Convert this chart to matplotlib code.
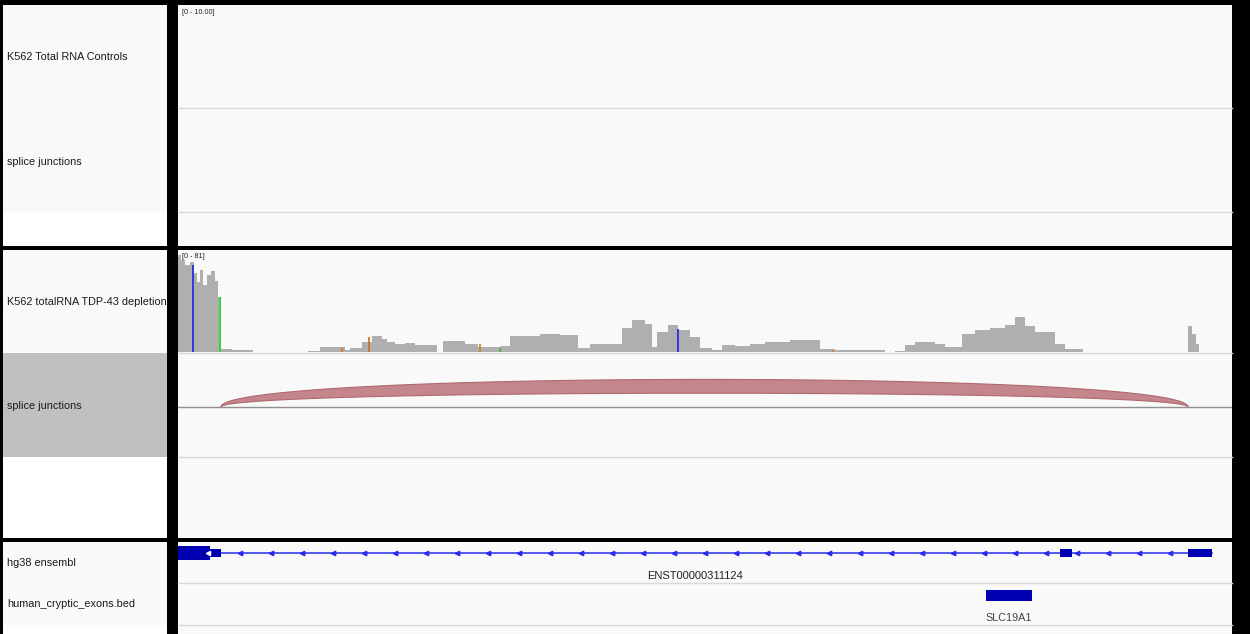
"""IGV-style view: TDP-43 depletion coverage, splice junction and gene tracks"""
import numpy as np
import matplotlib
matplotlib.use('Agg')
import matplotlib.pyplot as plt
from matplotlib.patches import Rectangle, Polygon

W, H = 1250, 634

# ---- data (positions in kb from the left edge of the window) ----
window_kb = (0, 52.7)

track_names = ['K562 Total RNA Controls', 'splice junctions',
               'K562 totalRNA TDP-43 depletion', 'splice junctions',
               'hg38 ensembl', 'human_cryptic_exons.bed']
control_range = '[0 - 10.00]'
tdp_range = '[0 - 81]'
tdp_max = 81

cov_start = [0.0, 0.15, 0.35, 0.6, 0.8, 0.95, 1.1, 1.25, 1.45, 1.65, 1.85, 2.0,
             2.15, 2.7, 6.5, 7.1, 8.35, 8.6, 9.2, 9.7, 10.2, 10.45, 10.85, 11.35,
             11.85, 13.25, 14.35, 15.0, 16.1, 16.6, 18.1, 19.1, 20.0, 20.6, 22.2,
             22.7, 23.35, 23.7, 23.95, 24.5, 25.0, 25.6, 26.1, 26.7, 27.2, 27.85,
             28.6, 29.35, 30.6, 31.45, 32.1, 32.85, 35.85, 36.35, 36.85, 37.85,
             38.35, 39.2, 39.85, 40.6, 41.35, 41.85, 42.35, 42.85, 43.85, 44.35,
             50.5, 50.7, 50.9]
cov_end = [0.15, 0.35, 0.6, 0.8, 0.95, 1.1, 1.25, 1.45, 1.65, 1.85, 2.0, 2.15,
           2.7, 3.75, 7.1, 8.35, 8.6, 9.2, 9.7, 10.2, 10.45, 10.85, 11.35, 11.85,
           12.95, 14.35, 15.0, 16.1, 16.6, 18.1, 19.1, 20.0, 20.6, 22.2, 22.7,
           23.35, 23.7, 23.95, 24.5, 25.0, 25.6, 26.1, 26.7, 27.2, 27.85, 28.6,
           29.35, 30.6, 31.45, 32.1, 32.85, 35.35, 36.35, 36.85, 37.85, 38.35,
           39.2, 39.85, 40.6, 41.35, 41.85, 42.35, 42.85, 43.85, 44.35, 45.25,
           50.7, 50.9, 51.05]
cov_depth = [79, 75, 71, 74, 65, 57, 67, 55, 63, 66, 58, 45,
             2.5, 1.5, 1.2, 4, 1.5, 3, 8, 13, 11, 8, 6.5, 7.5,
             5.5, 9, 6.5, 4, 5, 13, 15, 14, 3.5, 6.5, 20, 26,
             23, 4, 16, 22, 18, 12, 3.5, 1.8, 5.5, 5, 6.5, 8.5,
             10, 10, 2.5, 1.6, 1.2, 5.5, 8, 6.5, 4, 14.5, 18,
             20, 22.5, 29, 21, 16, 6.5, 2.5, 21, 15, 6.5]

mismatch_pos = [0.75, 2.1, 8.2, 9.55, 15.1, 16.1, 25.0, 26.85, 32.75]
mismatch_depth = [71, 45, 3, 12, 6.5, 3, 19, 1, 1.5]
mismatch_color = ['#2222dd', '#22dd22', '#e07010', '#c87020', '#d07a20',
                  '#22cc22', '#2222ee', '#f0a060', '#d08040']

junction_start, junction_end, junction_depth = 2.15, 50.5, 23

transcript_id = 'ENST00000311124'
transcript_span = (0.0, 51.7)
exon_start = [0.0, 1.6, 44.1, 50.5]
exon_end = [1.6, 2.15, 44.7, 51.7]
exon_thick = [True, False, False, False]

bed_name = 'SLC19A1'
bed_start, bed_end = 40.4, 42.7

# ---- figure / layout in pixels ----
fig = plt.figure(figsize=(W / 100, H / 100), dpi=100)
bg = fig.add_axes([0, 0, 1, 1])
bg.set_xlim(0, W)
bg.set_ylim(H, 0)
bg.axis('off')

panel_bg = '#f9f9f9'
bg.add_patch(Rectangle((0, 0), W, H, color='black'))


def box(x0, y0, x1, y1, color):
    bg.add_patch(Rectangle((x0, y0), x1 - x0, y1 - y0, color=color, lw=0))


# name panels and data panels
for top, bottom in [(5, 246), (250, 538), (542, H)]:
    box(3, top, 167, bottom, 'white')
    box(178, top, 1232, bottom, panel_bg)
box(3, 5, 167, 212, panel_bg)
box(3, 250, 167, 353, panel_bg)
box(3, 353, 167, 457, '#c0c0c0')
box(3, 542, 167, 625, panel_bg)

sep = '#d8d8e0'
for y in [108, 212, 353, 457, 583, 625]:
    bg.plot([178, 1232], [y, y], color=sep, lw=1)

name_y = [57, 162, 302, 406, 563, 604]
for name, y in zip(track_names, name_y):
    bg.text(7, y, name, fontsize=7.8, family='Liberation Sans',
            color='#1a1a1a', va='center')
bg.text(182, 12, control_range, fontsize=5.2, family='Liberation Sans',
        color='#222222', va='center')


def data_axes(y0, y1):
    ax = fig.add_axes([178 / W, 1 - y1 / H, (1232 - 178) / W, (y1 - y0) / H])
    ax.set_xlim(*window_kb)
    ax.patch.set_alpha(0)
    ax.axis('off')
    return ax


# coverage track
cov = data_axes(253, 352)
cov.set_ylim(0, tdp_max)
widths = np.array(cov_end) - np.array(cov_start)
cov.bar(cov_start, cov_depth, width=widths, align='edge', color='#afafaf', lw=0)
cov.vlines(mismatch_pos, 0, mismatch_depth, colors=mismatch_color, lw=1.2)
bg.text(182, 257, tdp_range, fontsize=5.2, family='Liberation Sans',
        color='#222222', va='center')

# splice junction track
junc = data_axes(353, 457)
junc.set_ylim(-50, 54)
junc.axhline(0, color='#909090', lw=1)
t = np.linspace(0, 1, 300)
jx = ((1 - t) ** 3 + 3 * (1 - t) ** 2 * t) * junction_start + \
     (3 * (1 - t) * t ** 2 + t ** 3) * junction_end
h_out = 1.6 * junction_depth
h_in = 0.8 * junction_depth
y_out = 3 * t * (1 - t) * h_out
y_in = 3 * t * (1 - t) * h_in
pts = np.column_stack([np.r_[jx, jx[::-1]], np.r_[y_out, y_in[::-1]]])
junc.add_patch(Polygon(pts, closed=True, facecolor='#c4868a',
                       edgecolor='#b06870', lw=0.8))

# gene track
gene = data_axes(542, 625)
gene.set_ylim(83, 0)
line_col = '#2a2aee'
exon_col = '#0000b2'
gene.plot(transcript_span, [11, 11], color=line_col, lw=1.1, zorder=1)
arrows = np.arange(3.1, 50.5, 1.55)
in_exon = np.zeros(len(arrows), dtype=bool)
for s, e in zip(exon_start, exon_end):
    in_exon |= (arrows > s) & (arrows < e)
gene.plot(arrows[~in_exon], np.full((~in_exon).sum(), 11), ls='none',
          marker='<', ms=3.2, color=line_col, zorder=2)
for s, e, thick in zip(exon_start, exon_end, exon_thick):
    hh = 14 if thick else 8
    gene.add_patch(Rectangle((s, 11 - hh / 2), e - s, hh, color=exon_col,
                             lw=0, zorder=3))
gene.plot([1.5], [11], marker='<', ms=3, color='white', ls='none', zorder=4)
gene.text(sum(transcript_span) / 2, 34, transcript_id, ha='center', va='center',
          fontsize=8, family='Liberation Sans', color='#222222')

# bed track
gene.add_patch(Rectangle((bed_start, 48), bed_end - bed_start, 11,
                         color=exon_col, lw=0, zorder=3))
gene.text((bed_start + bed_end) / 2, 76, bed_name, ha='center', va='center',
          fontsize=7.8, family='Liberation Sans', color='#444444')

fig.savefig('out.png', dpi=100)
